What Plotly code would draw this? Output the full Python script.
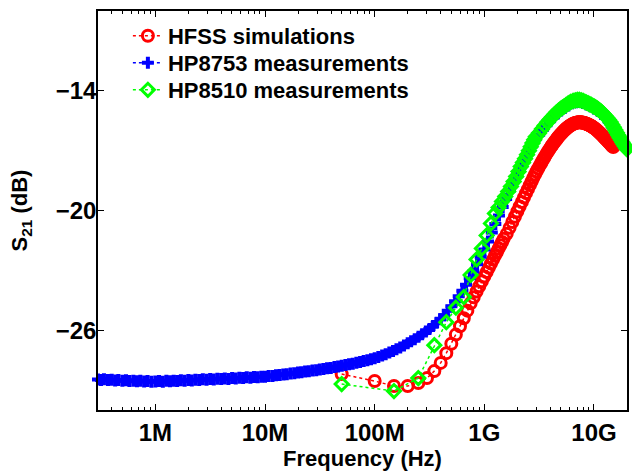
import plotly.graph_objects as go

# ---------------- data (frequencies in MHz, S21 in dB) ----------------
hfss_mhz = [50, 100, 150, 200, 250, 300, 350, 400, 450, 500,
            550, 600, 650, 700, 750, 800, 850, 900, 950, 1000,
            1050, 1100, 1150, 1200, 1250, 1300, 1350, 1400, 1450, 1500,
            1600, 1700, 1800, 1900, 2000, 2100, 2200, 2300, 2400, 2500,
            2600, 2700, 2800, 2900, 3000,
            3100, 3200, 3300, 3400, 3500, 3600, 3700, 3800, 3900, 4000,
            4100, 4200, 4300, 4400, 4500, 4600, 4700, 4800, 4900, 5000,
            5100, 5200, 5300, 5400, 5500, 5600, 5700, 5800, 5900, 6000,
            6125, 6250, 6375, 6500, 6625, 6750, 6875, 7000, 7125, 7250,
            7375, 7500, 7625, 7750, 7875, 8000, 8125, 8250, 8375, 8500,
            8625, 8750, 8875, 9000, 9125, 9250, 9375, 9500, 9625, 9750,
            9875, 10000,
            10250, 10500, 10750, 11000, 11250, 11500, 11750, 12000, 12250, 12500,
            12750, 13000, 13250, 13500, 13750, 14000, 14250, 14500, 14750, 15000]
hfss_db = [-28.20, -28.55, -28.80, -28.80, -28.65, -28.40, -28.05, -27.64, -27.15, -26.68,
           -26.22, -25.80, -25.40, -25.02, -24.65, -24.35, -24.06, -23.80, -23.55, -23.31,
           -23.08, -22.87, -22.66, -22.46, -22.27, -22.09, -21.91, -21.74, -21.58, -21.42,
           -21.17, -20.87, -20.58, -20.31, -20.05, -19.80, -19.57, -19.35, -19.13, -18.93,
           -18.73, -18.55, -18.36, -18.19, -18.03,
           -17.89, -17.75, -17.62, -17.49, -17.37, -17.26, -17.15, -17.05, -16.95, -16.86,
           -16.77, -16.69, -16.61, -16.54, -16.47, -16.40, -16.33, -16.27, -16.21, -16.16,
           -16.11, -16.06, -16.01, -15.97, -15.93, -15.89, -15.85, -15.82, -15.79, -15.76,
           -15.73, -15.70, -15.67, -15.65, -15.63, -15.61, -15.60, -15.59, -15.585, -15.58,
           -15.58, -15.58, -15.585, -15.59, -15.595, -15.60, -15.61, -15.62, -15.635, -15.65,
           -15.665, -15.68, -15.695, -15.71, -15.725, -15.74, -15.76, -15.78, -15.80, -15.82,
           -15.84, -15.86,
           -15.90, -15.95, -16.00, -16.05, -16.10, -16.15, -16.20, -16.25, -16.30, -16.36,
           -16.41, -16.46, -16.51, -16.56, -16.60, -16.65, -16.70, -16.74, -16.78, -16.82]

hp8753_mhz = [0.30, 0.32, 0.34, 0.37, 0.40, 0.43, 0.46, 0.50, 0.54, 0.58, 0.63, 0.68, 0.73, 0.79, 0.85, 0.92,
              1.00, 1.08, 1.17, 1.26, 1.36, 1.47, 1.58, 1.71, 1.85, 2.00, 2.15, 2.32, 2.51, 2.71, 2.93,
              3.16, 3.41, 3.68, 3.98, 4.30, 4.64, 5.01, 5.41, 5.84, 6.31, 6.81, 7.36, 7.94, 8.58, 9.26,
              10.0, 10.8, 11.7, 12.6, 13.6, 14.7, 15.8, 17.1, 18.5, 20.0, 21.5, 23.2, 25.1, 27.1, 29.3,
              31.6, 34.1, 36.8, 39.8, 43.0, 46.4, 50.1, 54.1, 58.4, 63.1, 68.1, 73.6, 79.4, 85.8, 92.6,
              100, 108, 117, 126, 136, 147, 158, 171, 185, 200, 215, 232, 251, 271, 293,
              316, 341, 368, 398, 430, 464, 501, 541, 584, 631, 681, 736, 794, 858, 926,
              1000, 1080, 1170, 1260, 1360, 1470, 1580, 1710, 1850, 2000, 2150, 2320, 2510, 2710, 2930,
              3160, 3410, 3680, 3980, 4300, 4640, 5010, 5410, 5840, 6310, 6810, 7360, 7940, 8580, 9260,
              10000, 10800, 11700, 12600, 13600, 14700, 15800, 17100, 18500, 20000]
hp8753_db = [-28.47, -28.49, -28.46, -28.50, -28.48, -28.52, -28.50, -28.53, -28.51, -28.55, -28.53, -28.56, -28.54, -28.57, -28.55, -28.58,
             -28.57, -28.55, -28.58, -28.54, -28.56, -28.53, -28.55, -28.51, -28.53, -28.50, -28.52, -28.48, -28.50, -28.46, -28.48,
             -28.45, -28.47, -28.43, -28.45, -28.42, -28.44, -28.40, -28.42, -28.38, -28.40, -28.36, -28.38, -28.34, -28.36, -28.33,
             -28.33, -28.30, -28.29, -28.26, -28.25, -28.22, -28.21, -28.17, -28.16, -28.12, -28.11, -28.07, -28.06, -28.02, -28.01,
             -27.97, -27.95, -27.91, -27.89, -27.85, -27.82, -27.78, -27.75, -27.71, -27.68, -27.63, -27.60, -27.55, -27.51, -27.45,
             -27.40, -27.34, -27.27, -27.20, -27.12, -27.04, -26.96, -26.87, -26.77, -26.66, -26.56, -26.45, -26.33, -26.20, -26.07,
             -25.94, -25.79, -25.63, -25.45, -25.25, -25.03, -24.80, -24.55, -24.30, -24.02, -23.72, -23.40, -23.06, -22.70, -22.32,
             -21.95, -21.55, -21.10, -20.68, -20.25, -19.82, -19.42, -19.00, -18.58, -18.20, -17.85, -17.50, -17.12, -16.78, -16.43,
             -16.20, -15.97, -15.73, -15.52, -15.32, -15.14, -14.99, -14.86, -14.74, -14.63, -14.58, -14.56, -14.61, -14.69, -14.78,
             -14.89, -15.00, -15.16, -15.34, -15.54, -15.80, -16.08, -16.42, -16.74, -17.00]

hp8510_mhz = [50, 150, 250, 350, 450, 550, 650, 750, 850, 950,
              1050, 1150, 1250, 1350, 1450, 1550, 1650, 1750, 1850, 1950,
              2050, 2150, 2250, 2350, 2450, 2550, 2650, 2750, 2850, 2950,
              3150, 3350, 3550, 3750, 3950, 4150, 4350, 4550, 4750, 4950,
              5150, 5350, 5550, 5750, 5950,
              6150, 6450, 6750, 7050, 7350, 7650, 7950, 8250, 8550, 8850,
              9150, 9450, 9750, 10050, 10350, 10650, 10950, 11250, 11550, 11850,
              12150, 12650, 13150, 13650, 14150, 14650, 15150, 15650, 16150, 16650,
              17150, 17650, 18150, 18650, 19150, 19650, 19950]
hp8510_db = [-28.70, -29.05, -28.40, -26.75, -25.60, -24.87, -24.34, -23.23, -22.45, -21.90,
             -21.25, -20.65, -20.15, -19.85, -19.55, -19.30, -19.05, -18.80, -18.55, -18.30,
             -18.05, -17.80, -17.60, -17.40, -17.20, -17.00, -16.80, -16.62, -16.45, -16.30,
             -16.12, -15.92, -15.74, -15.58, -15.44, -15.31, -15.19, -15.08, -14.99, -14.91,
             -14.84, -14.78, -14.72, -14.66, -14.61,
             -14.56, -14.51, -14.48, -14.46, -14.46, -14.48, -14.51, -14.55, -14.59, -14.63,
             -14.67, -14.71, -14.75, -14.79, -14.83, -14.88, -14.93, -14.98, -15.03, -15.09,
             -15.15, -15.25, -15.35, -15.45, -15.57, -15.70, -15.83, -15.97, -16.10, -16.23,
             -16.35, -16.47, -16.58, -16.68, -16.78, -16.87, -16.92]

x_tick_hz = [1e6, 1e7, 1e8, 1e9, 1e10]
x_tick_text = ["1M", "10M", "100M", "1G", "10G"]
y_tick_vals = [-26, -20, -14]
y_tick_text = ["\u221226", "\u221220", "\u221214"]

# ---------------------------------------------------------------------
FONT = "Liberation Sans, Arial, Helvetica, sans-serif"
W, H = 632, 474
ML, MR, MT, MB = 98, 3, 11, 64

def hz(mhz_list):
    return [v * 1e6 for v in mhz_list]

minor_vals = [m * 10 ** d for d in range(5, 11) for m in range(2, 10)]

fig = go.Figure()
fig.add_trace(go.Scatter(
    x=hz(hfss_mhz), y=hfss_db, name="HFSS simulations", mode="lines+markers",
    line=dict(color="#ff0000", width=1.5, dash="dot"),
    marker=dict(symbol="circle-open", size=11, color="#ff0000", line=dict(width=3, color="#ff0000")),
    cliponaxis=False, legend="legend"))
fig.add_trace(go.Scatter(
    x=hz(hp8753_mhz), y=hp8753_db, name="HP8753 measurements", mode="lines+markers",
    line=dict(color="#0000ff", width=1.5, dash="dot"),
    marker=dict(symbol="cross", size=10, color="#0000ff", line=dict(width=0)),
    cliponaxis=False, legend="legend2"))
fig.add_trace(go.Scatter(
    x=hz(hp8510_mhz), y=hp8510_db, name="HP8510 measurements", mode="lines+markers",
    line=dict(color="#00ff00", width=1.5, dash="dot"),
    marker=dict(symbol="diamond-open", size=10, color="#00ff00", line=dict(width=3, color="#00ff00")),
    cliponaxis=False, legend="legend3"))

plot_h = H - MT - MB
def leg(ycenter_px):
    return dict(x=(128 - ML) / (W - ML - MR), y=1 - (ycenter_px - MT) / plot_h,
                xanchor="left", yanchor="middle",
                bgcolor="rgba(0,0,0,0)", borderwidth=0,
                font=dict(family=FONT, size=22, color="black", weight="bold"))

fig.update_layout(
    width=W, height=H,
    margin=dict(l=ML, r=MR, t=MT, b=MB),
    paper_bgcolor="white", plot_bgcolor="white",
    font=dict(family=FONT, color="black", size=22, weight="bold"),
    showlegend=True,
    legend=leg(36), legend2=leg(63), legend3=leg(90),
    xaxis=dict(
        type="log", range=[5.4771, 10.3010],
        tickmode="array", tickvals=x_tick_hz, ticktext=x_tick_text,
        ticks="inside", ticklen=6, tickwidth=1, tickcolor="black",
        showline=True, linecolor="black", linewidth=1.5, mirror="ticks",
        showgrid=False, zeroline=False,
        tickfont=dict(family=FONT, size=24, color="black", weight="bold"),
        minor=dict(tickmode="array", tickvals=minor_vals, ticks="inside", ticklen=3,
                   tickcolor="black", showgrid=False),
        title=dict(text="Frequency (Hz)", standoff=2,
                   font=dict(family=FONT, size=22, color="black", weight="bold")),
    ),
    yaxis=dict(
        range=[-30, -10],
        tickmode="array", tickvals=y_tick_vals, ticktext=y_tick_text,
        ticks="inside", ticklen=6, tickwidth=1, tickcolor="black",
        ticklabelstandoff=-5,
        showline=True, linecolor="black", linewidth=1.5, mirror="ticks",
        showgrid=False, zeroline=False,
        tickfont=dict(family=FONT, size=24, color="black", weight="bold"),
        title=dict(text="S<sub>21</sub> (dB)", standoff=22,
                   font=dict(family=FONT, size=22, color="black", weight="bold")),
    ),
)

fig.write_html("out.html", config={"displayModeBar": False},
               post_script="document.body.style.margin='0';document.body.style.overflow='hidden';")
